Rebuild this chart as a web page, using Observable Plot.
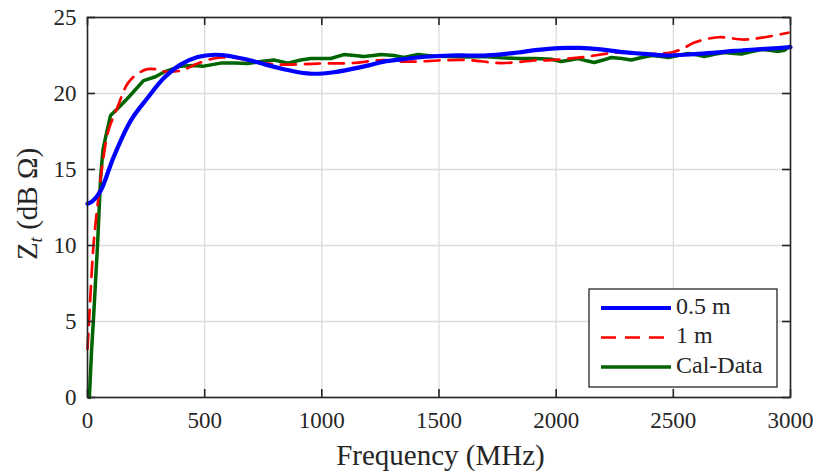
<!DOCTYPE html>
<html>
<head>
<meta charset="utf-8">
<script src="https://cdn.jsdelivr.net/npm/d3@7"></script>
<script src="https://cdn.jsdelivr.net/npm/@observablehq/plot@0.6"></script>
<style>
  html, body { margin: 0; padding: 0; background: #fff; }
  #chart svg { display: block; overflow: visible; }
</style>
</head>
<body>
<div id="chart"></div>
<script>
// ---- Data ----
const xTicks = [0, 500, 1000, 1500, 2000, 2500, 3000];
const yTicks = [0, 5, 10, 15, 20, 25];
const seriesNames = ["0.5 m", "1 m", "Cal-Data"];

const freq05 = [0, 20, 56, 111, 184, 256, 325, 397, 470, 545, 611, 697, 760, 838, 900, 970, 1050, 1124, 1200, 1265, 1340, 1410, 1480, 1551, 1620, 1692, 1765, 1838, 1910, 1979, 2050, 2100, 2190, 2265, 2340, 2406, 2479, 2547, 2620, 2692, 2760, 2833, 2910, 3000];
const zt05 = [12.75, 12.9, 13.6, 15.8, 18.2, 19.7, 21.0, 21.9, 22.4, 22.55, 22.45, 22.17, 21.9, 21.6, 21.4, 21.3, 21.4, 21.6, 21.85, 22.1, 22.25, 22.37, 22.45, 22.5, 22.5, 22.5, 22.58, 22.7, 22.85, 22.95, 23.0, 23.0, 22.9, 22.76, 22.65, 22.57, 22.5, 22.55, 22.62, 22.7, 22.8, 22.88, 22.95, 23.05];

const freq1 = [0, 10, 26, 47, 68, 90, 128, 171, 214, 256, 290, 325, 397, 470, 538, 611, 680, 752, 838, 983, 1124, 1265, 1340, 1410, 1496, 1624, 1765, 1906, 1979, 2120, 2265, 2406, 2491, 2540, 2590, 2692, 2803, 2889, 2991];
const zt1 = [3.2, 6.0, 10.1, 13.2, 15.8, 17.6, 19.1, 20.65, 21.3, 21.6, 21.6, 21.45, 21.5, 21.97, 22.3, 22.37, 22.2, 22.0, 21.9, 21.97, 22.0, 22.2, 22.1, 22.1, 22.17, 22.2, 22.0, 22.17, 22.2, 22.4, 22.7, 22.6, 22.7, 22.95, 23.35, 23.7, 23.55, 23.7, 24.0];

const freqCal = [8, 17, 26, 43, 56, 66, 77, 98, 128, 160, 184, 239, 290, 325, 397, 450, 496, 568, 630, 684, 740, 795, 855, 910, 953, 1038, 1094, 1140, 1179, 1220, 1252, 1308, 1350, 1410, 1480, 1551, 1620, 1692, 1765, 1838, 1910, 1979, 2021, 2060, 2094, 2130, 2162, 2200, 2235, 2280, 2321, 2360, 2406, 2440, 2479, 2520, 2564, 2600, 2632, 2680, 2718, 2750, 2791, 2830, 2876, 2910, 2949, 2975, 2996];
const ztCal = [0, 3.0, 5.3, 10.1, 14.5, 16.3, 17.1, 18.55, 19.0, 19.5, 19.9, 20.85, 21.1, 21.4, 21.8, 21.85, 21.8, 22.0, 22.0, 21.97, 22.1, 22.2, 22.0, 22.2, 22.3, 22.3, 22.56, 22.5, 22.43, 22.5, 22.56, 22.5, 22.37, 22.56, 22.45, 22.43, 22.4, 22.43, 22.35, 22.3, 22.3, 22.25, 22.1, 22.2, 22.3, 22.15, 22.04, 22.2, 22.37, 22.3, 22.2, 22.35, 22.5, 22.45, 22.37, 22.5, 22.63, 22.55, 22.43, 22.6, 22.7, 22.65, 22.6, 22.75, 22.9, 22.85, 22.77, 22.85, 23.1];

const d05 = freq05.map((f, i) => ({f, z: zt05[i]}));
const d1 = freq1.map((f, i) => ({f, z: zt1[i]}));
const dCal = freqCal.map((f, i) => ({f, z: ztCal[i]}));

// ---- Layout ----
const W = 814, H = 471;
const mL = 87, mR = 24, mT = 17, mB = 74;
const pw = W - mL - mR, ph = H - mT - mB;
const tickLen = 8;
const axisColor = "#262626";
const font = "'Liberation Serif', 'DejaVu Serif', serif";
const dash = "15,9";

const chart = Plot.plot({
  width: W, height: H,
  marginLeft: mL, marginRight: mR, marginTop: mT, marginBottom: mB,
  style: {fontFamily: font, fontSize: "23px", color: axisColor, background: "#fff", overflow: "visible"},
  x: {domain: [0, 3000], ticks: xTicks},
  y: {domain: [0, 25], ticks: yTicks},
  marks: [
    Plot.gridX(xTicks, {stroke: "#dcdcdc", strokeOpacity: 1, strokeWidth: 1.3}),
    Plot.gridY(yTicks, {stroke: "#dcdcdc", strokeOpacity: 1, strokeWidth: 1.3}),
    Plot.line(dCal, {x: "f", y: "z", stroke: "#006400", strokeWidth: 3.5, strokeLinejoin: "round"}),
    Plot.line(d1, {x: "f", y: "z", stroke: "#ff0000", strokeWidth: 2.7, strokeDasharray: dash, curve: "catmull-rom"}),
    Plot.line(d05, {x: "f", y: "z", stroke: "#0000ff", strokeWidth: 4.2, curve: "catmull-rom"}),
    // inward ticks on all four sides
    Plot.tickX(xTicks, {x: d => d, stroke: axisColor, strokeWidth: 1.6, insetTop: ph - tickLen}),
    Plot.tickX(xTicks, {x: d => d, stroke: axisColor, strokeWidth: 1.6, insetBottom: ph - tickLen}),
    Plot.tickY(yTicks, {y: d => d, stroke: axisColor, strokeWidth: 1.6, insetRight: pw - tickLen}),
    Plot.tickY(yTicks, {y: d => d, stroke: axisColor, strokeWidth: 1.6, insetLeft: pw - tickLen}),
    Plot.frame({stroke: axisColor, strokeWidth: 1.6}),
    Plot.axisX(xTicks, {tickSize: 0, tickPadding: 14, label: null, fill: axisColor, fontSize: 23, tickFormat: d => String(d)}),
    Plot.axisY(yTicks, {tickSize: 0, tickPadding: 11, label: null, fill: axisColor, fontSize: 23, tickFormat: d => String(d)})
  ]
});

document.getElementById("chart").appendChild(chart);

// ---- Axis titles & legend (text/annotation) ----
const svg = d3.select(chart);
svg.append("text")
  .attr("x", mL + pw / 2 + 2).attr("y", 458)
  .attr("text-anchor", "middle").attr("dominant-baseline", "middle")
  .attr("font-family", font).attr("font-size", 29).attr("fill", axisColor)
  .text("Frequency (MHz)");

const yl = svg.append("text")
  .attr("transform", `translate(37,${mT + ph / 2 - 3}) rotate(-90)`)
  .attr("text-anchor", "middle")
  .attr("font-family", font).attr("font-size", 29).attr("fill", axisColor);
yl.append("tspan").text("Z");
yl.append("tspan").attr("font-size", 19).attr("font-style", "italic").attr("dy", 5).text("t");
yl.append("tspan").attr("dy", -5).text(" (dB Ω)");

const lg = svg.append("g");
lg.append("rect").attr("x", 589).attr("y", 289).attr("width", 188).attr("height", 98)
  .attr("fill", "#fff").attr("stroke", axisColor).attr("stroke-width", 1.3);
const legendStyles = [
  {stroke: "#0000ff", width: 4.2, dash: null},
  {stroke: "#ff0000", width: 2.7, dash: dash},
  {stroke: "#006400", width: 3.5, dash: null}
];
seriesNames.forEach((name, i) => {
  const yy = 308 + i * 29.5;
  const s = legendStyles[i];
  lg.append("line").attr("x1", 601).attr("x2", 671).attr("y1", yy).attr("y2", yy)
    .attr("stroke", s.stroke).attr("stroke-width", s.width).attr("stroke-dasharray", s.dash);
  lg.append("text").attr("x", 676).attr("y", yy).attr("text-anchor", "start").attr("dominant-baseline", "middle")
    .attr("font-family", font).attr("font-size", 24).attr("fill", axisColor).text(name);
});
</script>
</body>
</html>
